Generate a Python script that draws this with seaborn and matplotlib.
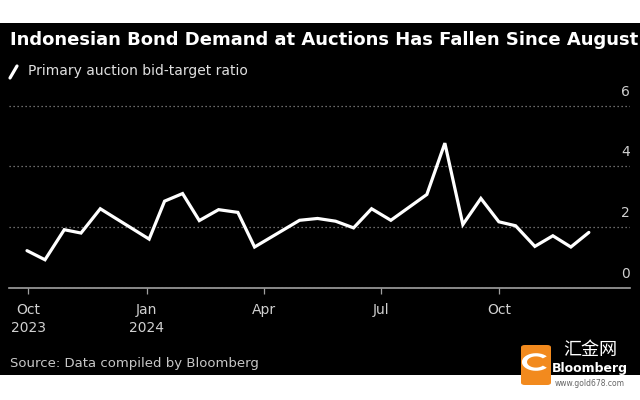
import matplotlib
matplotlib.use("Agg")
import matplotlib.pyplot as plt
import matplotlib.patches as mpatches
from matplotlib.lines import Line2D
import seaborn as sns
import pandas as pd
import numpy as np

# ---- data ----
dates = ["2023-09-30", "2023-10-14", "2023-10-29", "2023-11-11", "2023-11-26",
         "2024-01-03", "2024-01-15", "2024-01-29", "2024-02-11", "2024-02-26",
         "2024-03-12", "2024-03-25", "2024-04-29", "2024-05-13", "2024-05-27",
         "2024-06-10", "2024-06-24", "2024-07-09", "2024-08-06", "2024-08-20",
         "2024-09-03", "2024-09-17", "2024-10-01", "2024-10-14", "2024-10-29",
         "2024-11-12", "2024-11-26", "2024-12-10"]
ratio = [1.22, 0.92, 1.91, 1.80, 2.60,
         1.60, 2.85, 3.10, 2.21, 2.57,
         2.48, 1.34, 2.22, 2.28, 2.19,
         1.97, 2.60, 2.22, 3.07, 4.76,
         2.08, 2.94, 2.17, 2.04, 1.36,
         1.71, 1.34, 1.82]
xtick_dates = ["2023-10-01", "2024-01-01", "2024-04-01", "2024-07-01", "2024-10-01"]
xtick_labels = ["Oct\n2023", "Jan\n2024", "Apr", "Jul", "Oct"]
yticks = [0, 2, 4, 6]
ytick_labels = ["0", "2", "4", "6"]
title = "Indonesian Bond Demand at Auctions Has Fallen Since August"
series_name = "Primary auction bid-target ratio"
source = "Source: Data compiled by Bloomberg"

df = pd.DataFrame({"date": pd.to_datetime(dates), "ratio": ratio})

sns.set_theme(style="dark")
plt.rcParams["font.family"] = ["DejaVu Sans", "Noto Sans CJK SC"]

W, H = 640, 400
fig = plt.figure(figsize=(6.4, 4.0), dpi=100, facecolor="white")

# black panel
fig.add_artist(mpatches.Rectangle((0, 1 - 375 / H), 1, (375 - 23) / H,
                                  transform=fig.transFigure, facecolor="black",
                                  edgecolor="none", zorder=0))

def fy(py):
    return 1 - py / H

ax_left, ax_right = 9 / W, 630 / W
y0_px, y6_px = 287.7, 105.5
px_per_unit = (y0_px - y6_px) / 6
ymax = 6.5
ax_bottom = fy(y0_px)
ax_top = fy(y0_px - ymax * px_per_unit)
ax = fig.add_axes([ax_left, ax_bottom, ax_right - ax_left, ax_top - ax_bottom])
ax.set_facecolor("none")

sns.lineplot(data=df, x="date", y="ratio", ax=ax, color="white", linewidth=2.3,
             solid_joinstyle="miter", zorder=3)

ax.set_xlim(pd.Timestamp("2023-09-16"), pd.Timestamp("2025-01-11"))
ax.set_ylim(0, ymax)
ax.set_xlabel("")
ax.set_ylabel("")

ax.set_xticks(pd.to_datetime(xtick_dates))
ax.set_xticklabels(xtick_labels, linespacing=1.35)
ax.tick_params(axis="x", colors="#a0a0a0", labelcolor="#d0d0d0", labelsize=10,
               length=4.5, width=0.9, direction="out", pad=6.5, bottom=True)

ax.set_yticks(yticks)
ax.set_yticklabels([])
ax.tick_params(axis="y", length=0, left=False, right=False)
ax.yaxis.grid(True, color="#8c8c8c", linewidth=0.9, linestyle=(0, (1.0, 2.2)))
ax.xaxis.grid(False)

for s in ["top", "left", "right"]:
    ax.spines[s].set_visible(False)
ax.spines["bottom"].set_color("#a0a0a0")
ax.spines["bottom"].set_linewidth(1.2)
ax.spines["bottom"].set_zorder(4)

for v, lab in zip(yticks, ytick_labels):
    ax.annotate(lab, xy=(1.0, v), xycoords=("axes fraction", "data"),
                xytext=(0, 10), textcoords="offset points",
                ha="right", va="center", color="#d0d0d0", fontsize=10)

# title / legend / source
fig.text(10 / W, fy(45), title, color="white", fontsize=13, fontweight="bold",
         ha="left", va="baseline")
fig.add_artist(Line2D([10 / W, 17 / W], [fy(78), fy(66)], color="white",
                      linewidth=2.3, transform=fig.transFigure))
fig.text(28 / W, fy(71.5), series_name, color="#e0e0e0", fontsize=10,
         ha="left", va="center")
fig.text(10 / W, fy(367), source, color="#c8c8c8", fontsize=9.5,
         ha="left", va="baseline")

# Bloomberg mark + watermark overlay
fig.text(628 / W, fy(372), "Bloomberg", color="white", fontsize=9,
         fontweight="bold", ha="right", va="baseline", zorder=5)
fig.add_artist(mpatches.FancyBboxPatch((521 / W, fy(385)), 30 / W, 40 / H,
                                       boxstyle="round,pad=0,rounding_size=0.006",
                                       transform=fig.transFigure,
                                       facecolor="#f28a1e", edgecolor="none", zorder=6))
fig.add_artist(mpatches.Wedge((536 / W, fy(362)), 0.022, 40, 320, width=0.008,
                              transform=fig.transFigure, facecolor="white",
                              edgecolor="none", zorder=7))
fig.text(590 / W, fy(350), "汇金网", color="white", fontsize=13,
         family=["Noto Sans CJK SC", "DejaVu Sans"], ha="center", va="center",
         zorder=7)
fig.text(590 / W, fy(383), "www.gold678.com", color="#666666", fontsize=5.5,
         ha="center", va="center", zorder=7)

fig.savefig("out.png", dpi=100, facecolor="white")
